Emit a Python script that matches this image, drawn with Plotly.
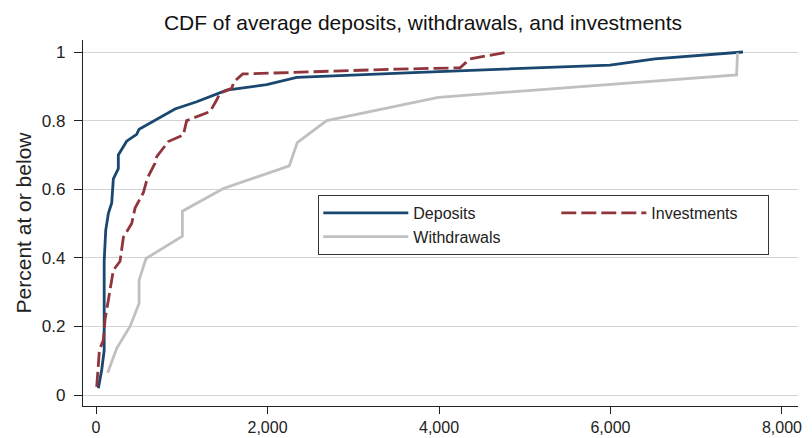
import plotly.graph_objects as go

# Deposits (x = average amount, y = cumulative share)
dep_x = [27, 66, 95, 95, 113, 144, 183, 202, 260, 260, 357, 474, 502, 746, 921, 1174, 1524, 1991, 2341, 3698, 5994, 6519, 7545]
dep_y = [0.02, 0.073, 0.13, 0.39, 0.48, 0.53, 0.56, 0.63, 0.66, 0.70, 0.74, 0.76, 0.775, 0.81, 0.834, 0.855, 0.889, 0.905, 0.926, 0.94, 0.962, 0.98, 1.0]

# Investments
inv_x = [8, 39, 85, 105, 144, 202, 280, 319, 416, 455, 552, 598, 688, 708, 843, 1018, 1057, 1329, 1407, 1446, 1582, 1609, 1711, 2574, 3000, 3500, 4245, 4362, 4808]
inv_y = [0.024, 0.13, 0.16, 0.22, 0.277, 0.364, 0.39, 0.46, 0.50, 0.545, 0.59, 0.632, 0.676, 0.695, 0.739, 0.758, 0.80, 0.826, 0.86, 0.88, 0.894, 0.913, 0.936, 0.943, 0.947, 0.95, 0.954, 0.98, 1.0]

# Withdrawals
wd_x = [136, 241, 396, 502, 502, 583, 1007, 1007, 1485, 2254, 2347, 2612, 2690, 3992, 7471, 7482]
wd_y = [0.065, 0.136, 0.20, 0.267, 0.335, 0.398, 0.463, 0.536, 0.602, 0.668, 0.736, 0.787, 0.80, 0.868, 0.933, 0.998]

x_ticks = [0, 2000, 4000, 6000, 8000]
x_tick_labels = ["0", "2,000", "4,000", "6,000", "8,000"]
y_ticks = [0, 0.2, 0.4, 0.6, 0.8, 1]
y_tick_labels = ["0", "0.2", "0.4", "0.6", "0.8", "1"]

FONT = "Liberation Sans, Arial, sans-serif"

# the page body adds an 8px offset; the figure is sized to fill the rest
W, H = 804, 430

fig = go.Figure()
fig.add_trace(go.Scatter(x=dep_x, y=dep_y, mode="lines", name="Deposits",
                         line=dict(color="#1a476f", width=2.8),
                         legendgroup="a"))
fig.add_trace(go.Scatter(x=inv_x, y=inv_y, mode="lines", name="Investments",
                         line=dict(color="#90353b", width=2.8, dash="15px,5px"),
                         legendgroup="b", legendwidth=112))
fig.add_trace(go.Scatter(x=wd_x, y=wd_y, mode="lines", name="Withdrawals",
                         line=dict(color="#c0c0c0", width=2.8),
                         legendgroup="a"))

fig.update_layout(
    width=W, height=H,
    margin=dict(l=75, r=14, t=32, b=32),
    paper_bgcolor="white", plot_bgcolor="white",
    font=dict(family=FONT, color="#222222", size=16),
    title=dict(text="CDF of average deposits, withdrawals, and investments",
               x=415/W, xref="container", xanchor="center",
               y=1 - 15/H, yref="container", yanchor="middle",
               font=dict(size=21, color="#111111")),
    showlegend=True,
    legend=dict(orientation="h", traceorder="grouped",
                x=(318.3-83)/715, y=(406-195)/366, xanchor="left", yanchor="top",
                bordercolor="#333333", borderwidth=1, bgcolor="white",
                itemwidth=85, entrywidth=138, tracegroupgap=0,
                font=dict(size=16, color="#222222")),
    xaxis=dict(range=[-152, 8187], tickvals=x_ticks, ticktext=x_tick_labels,
               showgrid=False, zeroline=False, showline=True, linecolor="#222222",
               linewidth=1.3, ticks="outside", ticklen=7, tickcolor="#222222",
               tickfont=dict(size=16), automargin=False),
    yaxis=dict(range=[-0.032, 1.035], tickvals=y_ticks, ticktext=y_tick_labels,
               showgrid=True, gridcolor="#d4d4d4", gridwidth=1, zeroline=False,
               showline=True, linecolor="#222222", linewidth=1.3,
               ticks="outside", ticklen=8, tickcolor="#222222",
               tickfont=dict(size=17), ticklabelstandoff=5, automargin=False,
               title=dict(text="Percent at or below", font=dict(size=21), standoff=4)),
)

fig.write_html("out.html")
